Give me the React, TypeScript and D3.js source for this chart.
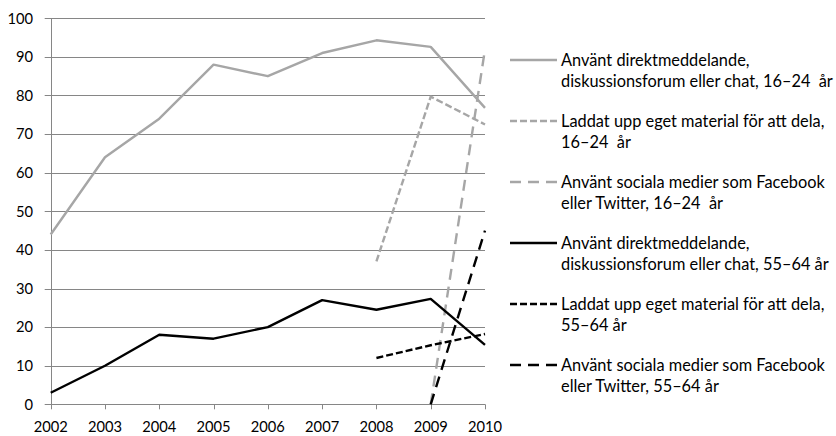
import React, { useLayoutEffect, useRef, useState } from "react";
import * as d3 from "d3";

// Survey years on the x axis
const years = [2002, 2003, 2004, 2005, 2006, 2007, 2008, 2009, 2010];

// Share of population (%) per year; null = not measured that year
const chat1624 = [44, 64, 74, 88, 85, 91, 94.3, 92.6, 76.8];
const upload1624 = [null, null, null, null, null, null, 37, 79.7, 72.5];
const social1624 = [null, null, null, null, null, null, null, 0, 92];
const chat5564 = [3, 10, 18, 17, 20, 27, 24.5, 27.3, 15.4];
const upload5564 = [null, null, null, null, null, null, 12, 15.3, 18.2];
const social5564 = [null, null, null, null, null, null, null, 0, 45];

const yTicks = [0, 10, 20, 30, 40, 50, 60, 70, 80, 90, 100];

// Legend labels, two lines each
const seriesLabels: string[][] = [
  ["Använt direktmeddelande,", "diskussionsforum eller chat, 16–24  år"],
  ["Laddat upp eget material för att dela,", "16–24  år"],
  ["Använt sociala medier som Facebook", "eller Twitter, 16–24  år"],
  ["Använt direktmeddelande,", "diskussionsforum eller chat, 55–64 år"],
  ["Laddat upp eget material för att dela,", "55–64 år"],
  ["Använt sociala medier som Facebook", "eller Twitter, 55–64 år"],
];

const seriesValues = [chat1624, upload1624, social1624, chat5564, upload5564, social5564];

const GRAY = "#a6a6a6";
const BLACK = "#000000";
const SHORT_DASH = "7,3";
const LONG_DASH = "11,7";
const seriesStyles = [
  { color: GRAY, dash: undefined },
  { color: GRAY, dash: SHORT_DASH },
  { color: GRAY, dash: LONG_DASH },
  { color: BLACK, dash: undefined },
  { color: BLACK, dash: SHORT_DASH },
  { color: BLACK, dash: LONG_DASH },
];

const W = 836;
const H = 436;
const FONT = "Lato, 'Noto Sans', sans-serif";
const AXIS = "#868686";

// legend geometry
const legendX0 = 510;
const legendX1 = 557;
const legendTextX = 561;
const legendRight = 833;
const legendTop = 60;
const legendStep = 61;
const lineGap = 21;
const BASE_LEGEND_SIZE = 16;

export default function App() {
  const legendRef = useRef<SVGGElement>(null);
  const [legendSize, setLegendSize] = useState(BASE_LEGEND_SIZE);

  // scale legend text so its longest line spans the space right of the swatches
  useLayoutEffect(() => {
    const g = legendRef.current;
    if (!g) return;
    let maxW = 0;
    g.querySelectorAll("text").forEach((t) => {
      maxW = Math.max(maxW, (t as SVGTextElement).getComputedTextLength());
    });
    if (maxW > 0) {
      const target = legendRight - legendTextX;
      const next = (legendSize * target) / maxW;
      if (Math.abs(next - legendSize) > 0.05) setLegendSize(next);
    }
  }, [legendSize]);

  const x = d3.scaleLinear().domain([2002, 2010]).range([50.7, 485]);
  const y = d3.scaleLinear().domain([0, 100]).range([404.3, 18.3]);

  const line = d3
    .line<[number, number | null]>()
    .defined((d) => d[1] !== null)
    .x((d) => x(d[0]))
    .y((d) => y(d[1] as number));

  return (
    <svg
      width={W}
      height={H}
      style={{ position: "absolute", left: 0, top: 0, background: "#fff" }}
      fontFamily={FONT}
    >
      {/* gridlines with left tick stubs */}
      {yTicks.map((t) => (
        <line
          key={"g" + t}
          x1={x(2002) - 6}
          x2={x(2010)}
          y1={Math.round(y(t)) + 0.5}
          y2={Math.round(y(t)) + 0.5}
          stroke={AXIS}
          strokeWidth={1}
        />
      ))}
      {/* vertical axis */}
      <line
        x1={Math.round(x(2002)) + 0.5}
        x2={Math.round(x(2002)) + 0.5}
        y1={y(100)}
        y2={y(0)}
        stroke={AXIS}
        strokeWidth={1}
      />
      {/* x ticks */}
      {years.map((yr) => (
        <line
          key={"t" + yr}
          x1={Math.round(x(yr)) + 0.5}
          x2={Math.round(x(yr)) + 0.5}
          y1={y(0)}
          y2={y(0) + 5}
          stroke={AXIS}
          strokeWidth={1}
        />
      ))}
      {/* y tick labels */}
      {yTicks.map((t) => (
        <text
          key={"yl" + t}
          x={33}
          y={y(t)}
          dy="0.36em"
          textAnchor="end"
          fontSize={14.7}
          fill="#000"
        >
          {t}
        </text>
      ))}
      {/* x tick labels */}
      {years.map((yr) => (
        <text
          key={"xl" + yr}
          x={x(yr)}
          y={432}
          textAnchor="middle"
          fontSize={14.7}
          fill="#000"
        >
          {yr}
        </text>
      ))}
      {/* series lines */}
      {seriesValues.map((vals, i) => {
        const pts = years.map((yr, j) => [yr, vals[j]] as [number, number | null]);
        return (
          <path
            key={"s" + i}
            d={line(pts) || ""}
            fill="none"
            stroke={seriesStyles[i].color}
            strokeWidth={2.4}
            strokeDasharray={seriesStyles[i].dash}
            strokeLinejoin="round"
          />
        );
      })}
      {/* legend */}
      <g ref={legendRef}>
        {seriesLabels.map((lbl, i) => {
          const cy = legendTop + i * legendStep;
          return (
            <g key={"lg" + i}>
              <line
                x1={legendX0}
                x2={legendX1}
                y1={cy}
                y2={cy}
                stroke={seriesStyles[i].color}
                strokeWidth={2.4}
                strokeDasharray={seriesStyles[i].dash}
              />
              {lbl.map((t, k) => (
                <text
                  key={k}
                  x={legendTextX}
                  y={cy + k * lineGap}
                  dy="0.36em"
                  fontSize={legendSize}
                  fill="#000"
                  style={{ whiteSpace: "pre" }}
                >
                  {t}
                </text>
              ))}
            </g>
          );
        })}
      </g>
    </svg>
  );
}
